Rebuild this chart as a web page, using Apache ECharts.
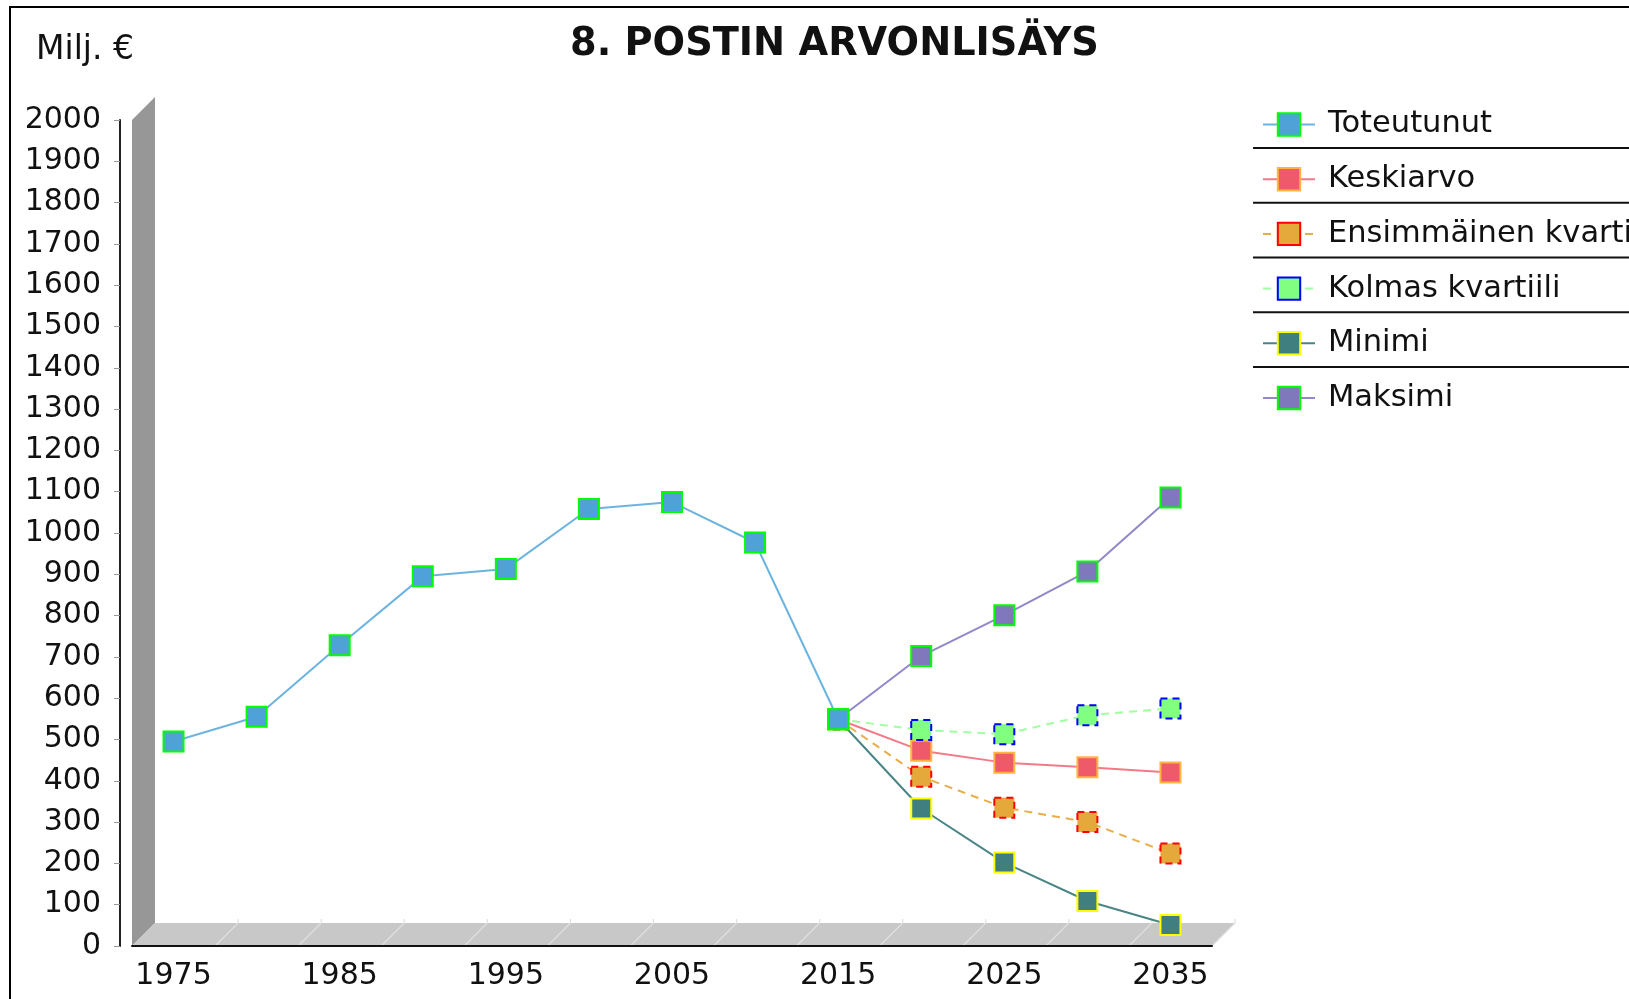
<!DOCTYPE html>
<html>
<head>
<meta charset="utf-8">
<script src="https://cdn.jsdelivr.net/npm/echarts@6/dist/echarts.min.js"></script>
<style>
  html, body { margin: 0; padding: 0; background: #fff; }
  #chart { width: 1629px; height: 999px; }
</style>
</head>
<body>
<div id="chart"></div>
<script>
(()=>{
  // data
  const years = ['1975','1980','1985','1990','1995','2000','2005','2010','2015','2020','2025','2030','2035'];
  const toteutunut = [495, 555, 728, 895, 913, 1058, 1075, 977, 549, null, null, null, null];
  const keskiarvo  = [null, null, null, null, null, null, null, null, 549, 473, 444, 433, 420];
  const kvartiili1 = [null, null, null, null, null, null, null, null, 549, 410, 335, 300, 224];
  const kvartiili3 = [null, null, null, null, null, null, null, null, 549, 523, 513, 559, 575];
  const minimi     = [null, null, null, null, null, null, null, null, 549, 333, 202, 109, 51];
  const maksimi    = [null, null, null, null, null, null, null, null, 549, 702, 801, 907, 1086];

  const FONT = '"DejaVu Sans", sans-serif';
  // plot frame
  const G = { left: 132, top: 120, width: 1080, height: 826 };
  const DEPTH = 23;

  const myChart = echarts.init(document.getElementById('chart'));

  const mkSeries = (name, data, c, z)=>({
    name,
    type: 'line',
    data,
    z: z || 4,
    symbol: 'rect',
    symbolSize: 20,
    connectNulls: false,
    animation: false,
    lineStyle: { color: c.line, width: 2, type: c.dash ? [8, 6] : 'solid' },
    itemStyle: {
      color: c.fill,
      borderColor: c.border,
      borderWidth: 2,
      borderType: c.dash ? [7, 5] : 'solid'
    },
    emphasis: { disabled: true }
  });

  // 3d wall, floor and the floor grid lines
  const x0 = G.left, y0 = G.top + G.height, x1 = G.left + G.width;
  const deco = [
    { type: 'rect', z: 0, silent: true,
      shape: { x: 10, y: 7, width: 1700, height: 1100 },
      style: { fill: null, stroke: '#000', lineWidth: 2 } },
    { type: 'polygon', z: 0, silent: true,
      shape: { points: [[x0, y0], [x0, G.top], [x0 + DEPTH, G.top - DEPTH], [x0 + DEPTH, y0 - DEPTH]] },
      style: { fill: '#979797' } },
    { type: 'polygon', z: 0, silent: true,
      shape: { points: [[x0, y0], [x1, y0], [x1 + DEPTH, y0 - DEPTH], [x0 + DEPTH, y0 - DEPTH]] },
      style: { fill: '#c8c8c8' } }
  ];
  const bw = G.width / years.length;
  for(let i = 1; i <= years.length; i++){
    const x = x0 + i * bw;
    deco.push({ type: 'polyline', z: 0, silent: true,
      shape: { points: [[x, y0], [x + DEPTH, y0 - DEPTH], [x + DEPTH, y0 - DEPTH - 4]] },
      style: { stroke: '#e0e0e0', lineWidth: 1.2, fill: null } });
  }
  // legend separators
  const rowY = 120, rowH = 54.8;
  for(let i = 1; i < 6; i++){
    deco.push({ type: 'line', z: 0, silent: true,
      shape: { x1: 1253, y1: rowY + (i - 0.5) * rowH + 0.5, x2: 1640, y2: rowY + (i - 0.5) * rowH + 0.5 },
      style: { stroke: '#111', lineWidth: 2 } });
  }
  deco.push({ type: 'text', z: 5, silent: true, x: 36, y: 50,
    style: { text: 'Milj. €', font: '33px ' + FONT, fill: '#111', verticalAlign: 'middle' } });

  const option = {
    backgroundColor: '#fff',
    animation: false,
    title: {
      text: '8. POSTIN ARVONLISÄYS',
      left: 565,
      top: 21,
      textStyle: { fontFamily: FONT, fontWeight: 'bold', fontSize: 38.3, color: '#111' }
    },
    legend: {
      orient: 'vertical',
      left: 1257,
      top: rowY - 16,
      itemWidth: 52,
      itemHeight: 28,
      itemGap: rowH - 31.1,
      textStyle: { fontFamily: FONT, fontSize: 30.5, color: '#111', lineHeight: 30, padding: [0, 0, 0, 8] },
      data: ['Toteutunut', 'Keskiarvo', 'Ensimmäinen kvartiili', 'Kolmas kvartiili', 'Minimi', 'Maksimi']
    },
    grid: { left: G.left, top: G.top, width: G.width, height: G.height, containLabel: false },
    xAxis: {
      type: 'category',
      data: years,
      boundaryGap: true,
      z: 3,
      axisLine: { lineStyle: { color: '#111', width: 2 } },
      axisTick: { interval: 0, length: 6, lineStyle: { color: '#999' } },
      axisLabel: { interval: 1, margin: 15, fontFamily: FONT, fontSize: 30, color: '#111' },
      splitLine: { show: false }
    },
    yAxis: {
      type: 'value',
      min: 0,
      max: 2000,
      interval: 100,
      offset: 12,
      z: 3,
      axisLine: { show: true, lineStyle: { color: '#222', width: 2 } },
      axisTick: { show: true, length: 6, lineStyle: { color: '#999' } },
      axisLabel: { margin: 19, fontFamily: FONT, fontSize: 30, color: '#111', padding: [3, 0, 0, 0], formatter: (v)=>String(v) },
      splitLine: { show: false }
    },
    graphic: deco,
    series: [
      mkSeries('Keskiarvo', keskiarvo, { line: '#f27a88', fill: '#ef5a6a', border: '#ffb340' }),
      mkSeries('Ensimmäinen kvartiili', kvartiili1, { line: '#e9ae4c', fill: '#e5a83a', border: '#ff0000', dash: true }),
      mkSeries('Kolmas kvartiili', kvartiili3, { line: '#a0ffa0', fill: '#80ff80', border: '#0000ff', dash: true }),
      mkSeries('Minimi', minimi, { line: '#4a8585', fill: '#3f7f7f', border: '#ffff00' }),
      mkSeries('Maksimi', maksimi, { line: '#9088c8', fill: '#8078bc', border: '#00ff00' }),
      mkSeries('Toteutunut', toteutunut, { line: '#6cb4e0', fill: '#4ea2d8', border: '#00ff00' }, 6)
    ]
  };

  myChart.setOption(option);
})();
</script>
</body>
</html>
